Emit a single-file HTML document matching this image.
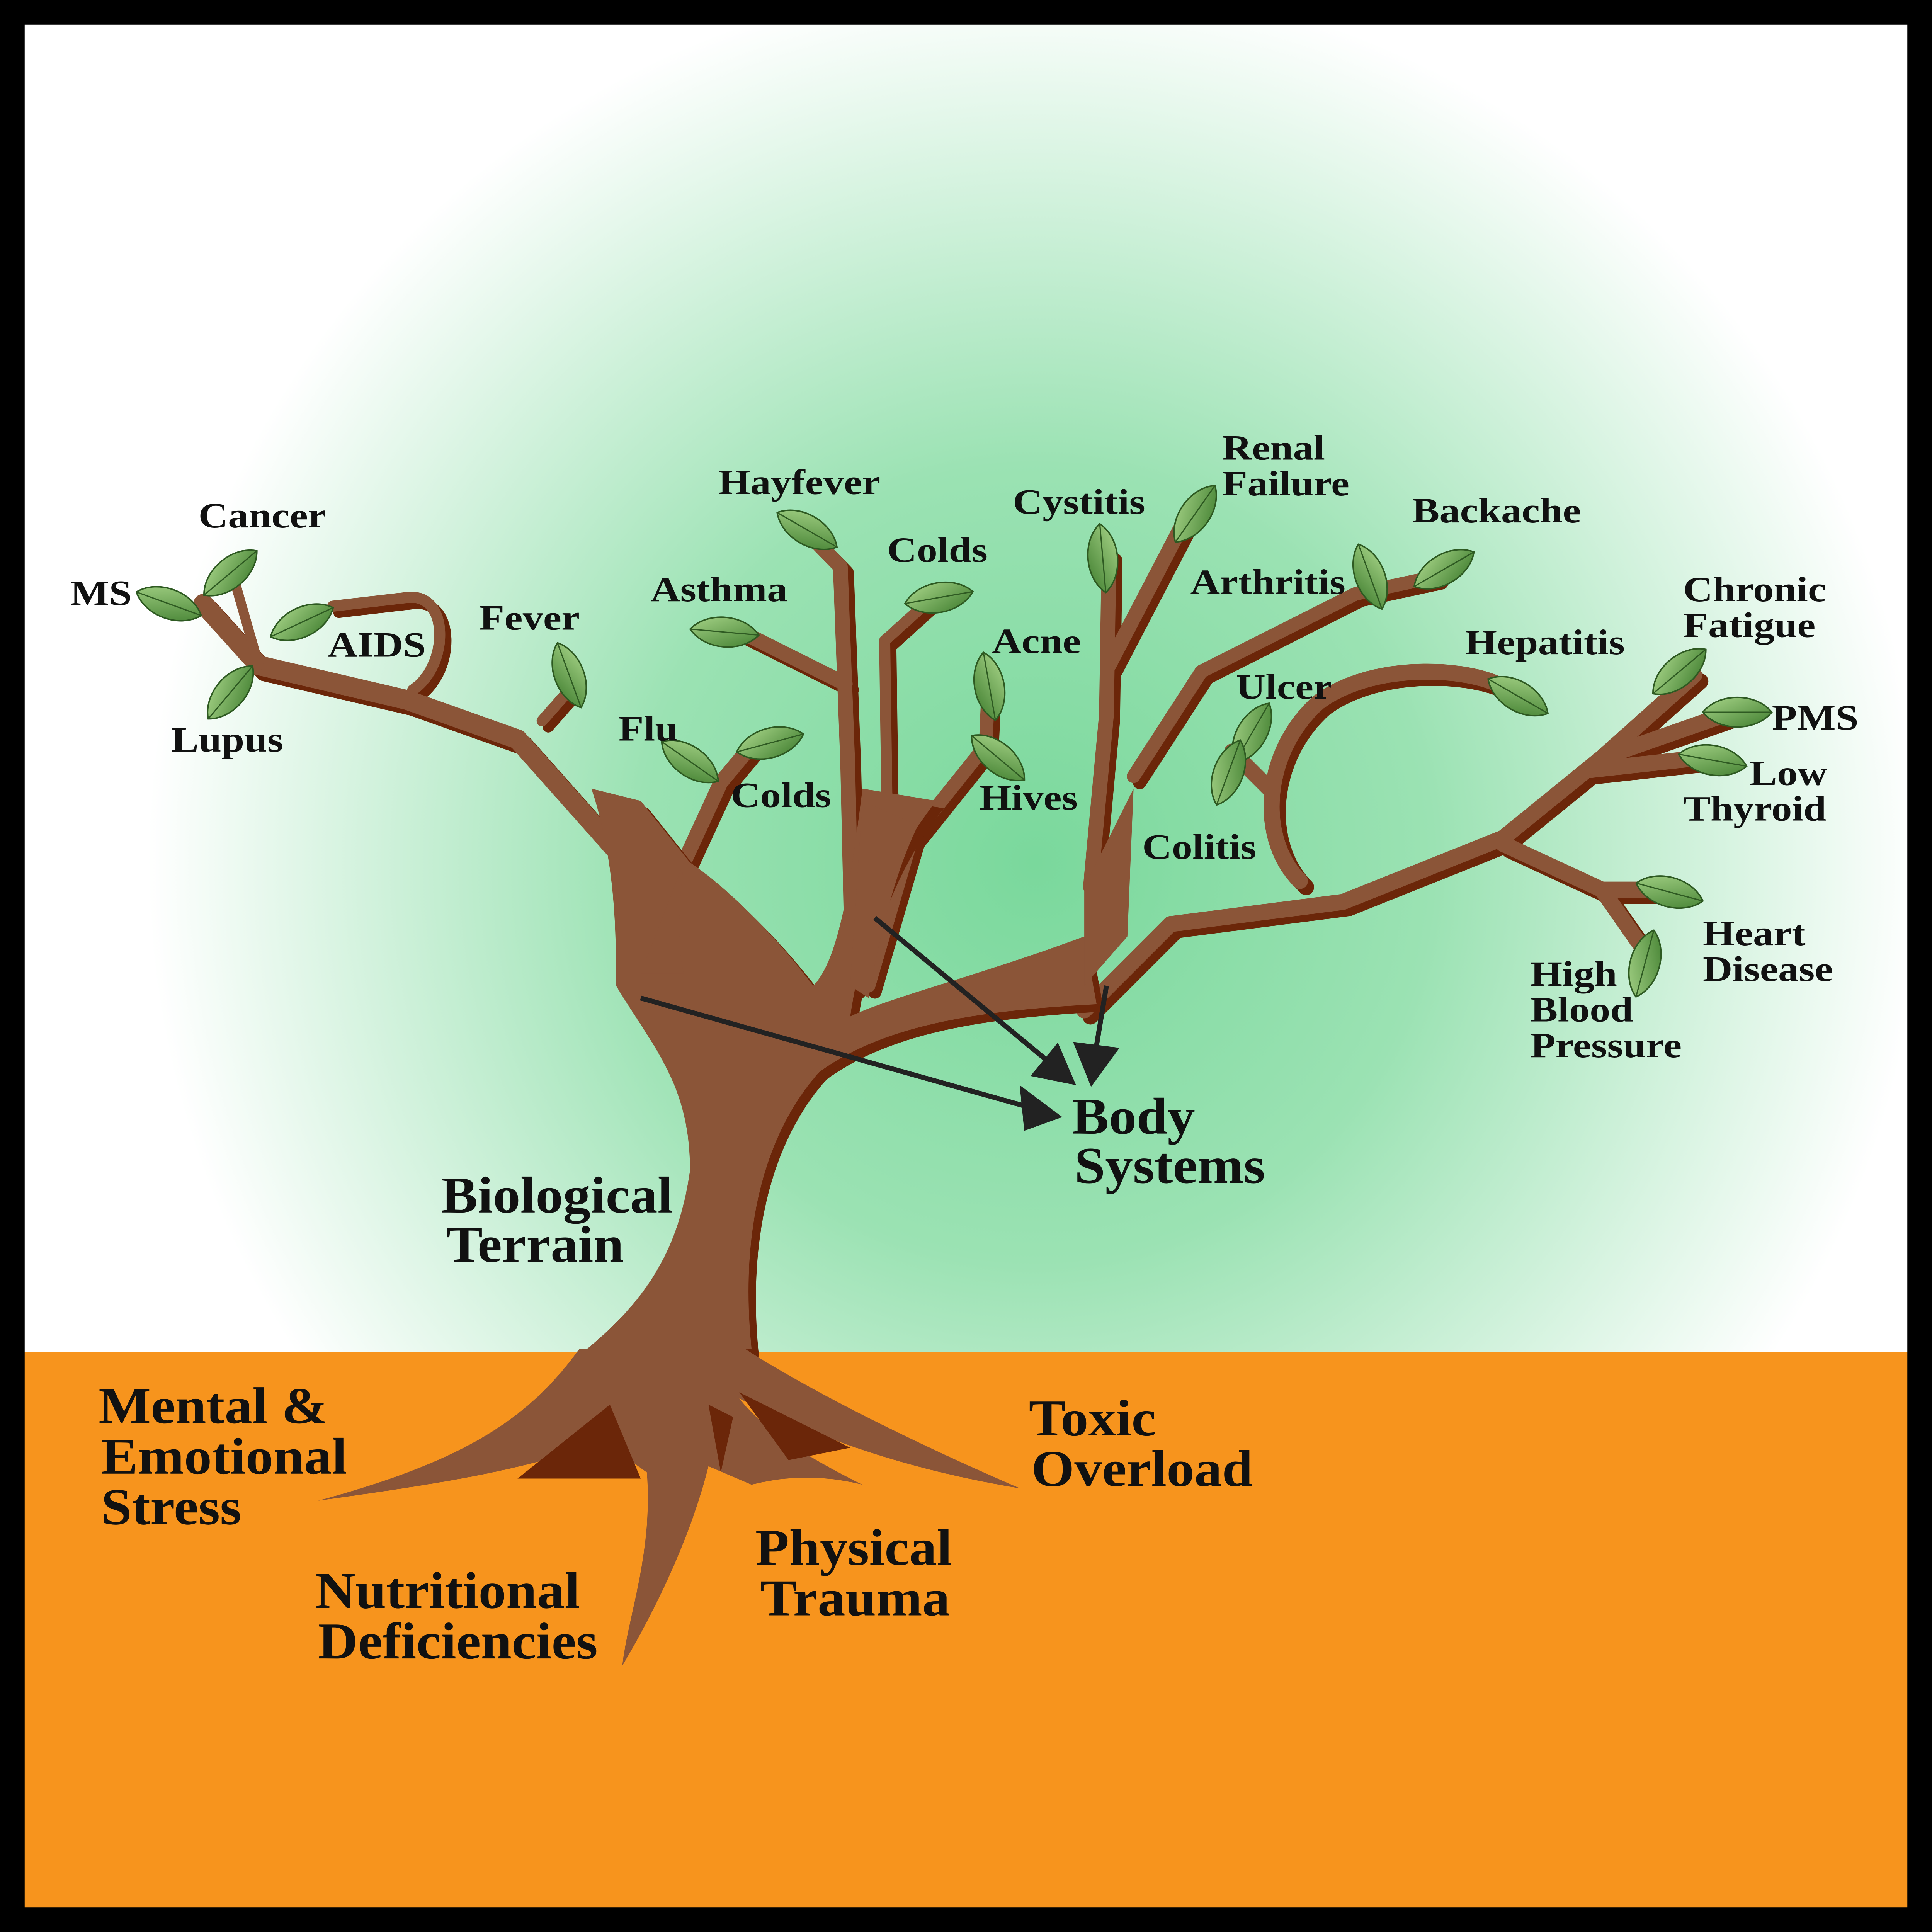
<!DOCTYPE html>
<html><head><style>html,body{margin:0;padding:0;background:#000;overflow:hidden;width:100vw;height:100vh}svg{display:block;position:fixed;left:0;top:0;width:100vw;height:100vh}</style></head><body>
<svg xmlns="http://www.w3.org/2000/svg" viewBox="0 0 1568 1568" preserveAspectRatio="none">
<defs>
<radialGradient id="bg" cx="840" cy="700" r="720" gradientUnits="userSpaceOnUse">
<stop offset="0" stop-color="#7ad89c"/><stop offset="0.45" stop-color="#9be2b3"/><stop offset="1" stop-color="#ffffff"/>
</radialGradient>
<linearGradient id="lf" x1="0" y1="0" x2="1" y2="1"><stop offset="0" stop-color="#a9d68a"/><stop offset="1" stop-color="#3f7d2e"/></linearGradient>
<g id="leaf"><path d="M-28,0 C-15,-16 15,-16 28,0 C15,16 -15,16 -28,0Z" fill="url(#lf)" stroke="#2e5a22" stroke-width="1.2"/><path d="M-28,0 L28,0" stroke="#2e5a22" stroke-width="1"/></g>
</defs>
<rect width="1568" height="1568" fill="#000"/>
<rect x="20" y="20" width="1528" height="1077" fill="url(#bg)"/>
<rect x="20" y="1097" width="1528" height="451" fill="#f7941d"/>

<g fill="none" stroke-linecap="round" stroke-linejoin="round">
<g stroke="#6b2609" transform="translate(5,5)">
<path d="M500,690 L420,600 L330,568 L210,540 L165,490" stroke-width="16"/>
<path d="M335,560 C365,540 365,480 330,485 L270,492" stroke-width="9"/>
<path d="M440,585 L462,560" stroke-width="9"/>
<path d="M555,700 L585,635 L610,605" stroke-width="12"/>
<path d="M692,800 L688,620 L682,460 L655,432 M686,555 L600,512" stroke-width="12"/>
<path d="M720,665 L718,520 L760,482" stroke-width="9"/>
<path d="M705,800 L740,680 L800,605 L802,560" stroke-width="11"/>
<path d="M885,720 L898,580 L900,450 M900,540 L960,425" stroke-width="12"/>
<path d="M920,630 L975,545 L1100,482 L1165,468" stroke-width="11"/>
<path d="M1055,715 C1020,680 1025,610 1070,570 C1110,540 1180,540 1215,555" stroke-width="13"/>
<path d="M880,820 L950,750 L1090,732 L1220,680 L1300,615 L1375,548 M1300,615 L1400,580 M1290,625 L1380,615 M1220,685 L1300,722 L1345,722 M1300,722 L1330,765" stroke-width="13"/>
</g>
<g stroke="#8b5538">
<path d="M500,690 L420,600 L330,568 L210,540 L165,490" stroke-width="16"/>
<path d="M210,540 L190,470" stroke-width="8"/>
<path d="M335,560 C365,540 365,480 330,485 L270,492" stroke-width="9"/>
<path d="M440,585 L462,560" stroke-width="9"/>
<path d="M555,700 L585,635 L610,605" stroke-width="12"/>
<path d="M692,800 L688,620 L682,460 L655,432 M686,555 L600,512" stroke-width="12"/>
<path d="M720,665 L718,520 L760,482" stroke-width="9"/>
<path d="M705,800 L740,680 L800,605 L802,560" stroke-width="11"/>
<path d="M885,720 L898,580 L900,450 M900,540 L960,425" stroke-width="12"/>
<path d="M920,630 L975,545 L1100,482 L1165,468" stroke-width="11"/>
<path d="M1055,715 C1020,680 1025,610 1070,570 C1110,540 1180,540 1215,555 M1030,640 L1000,610" stroke-width="13"/>
<path d="M880,820 L950,750 L1090,732 L1220,680 L1300,615 L1375,548 M1300,615 L1400,580 M1290,625 L1380,615 M1220,685 L1300,722 L1345,722 M1300,722 L1330,765" stroke-width="13"/>
</g>
</g>
<path d="M610,1095 C600,1000 620,920 665,870 C720,830 800,820 890,815 L880,760 C800,790 720,810 690,825 C700,760 720,700 760,650 L700,640 C690,720 680,780 660,800 C630,760 590,720 560,700 L520,650 L480,640 C500,700 500,760 500,800 C530,850 560,880 560,950 C550,1020 520,1060 470,1100 Z" fill="#6b2609" transform="translate(6,6)"/>
<path d="M610,1095 C600,1000 620,920 665,870 C720,830 800,820 890,815 L880,760 C800,790 720,810 690,825 C700,760 720,700 760,650 L700,640 C690,720 680,780 660,800 C630,760 590,720 560,700 L520,650 L480,640 C500,700 500,760 500,800 C530,850 560,880 560,950 C550,1020 520,1060 470,1100 Z" fill="#8b5538"/>
<path d="M555,700 C550,740 550,770 555,790 L520,790 Z M700,650 L690,800 L705,810 C715,750 730,700 745,670 Z M880,720 L880,800 L915,760 L920,640 Z" fill="#8b5538"/>
<path d="M470,1095 C430,1150 380,1185 258,1218 C350,1205 420,1195 490,1170 L525,1195 C530,1260 510,1310 505,1352 C530,1310 560,1250 575,1190 L610,1205 C630,1200 660,1195 700,1205 C650,1180 620,1160 600,1135 C650,1160 720,1190 828,1208 C740,1170 660,1130 605,1095 Z" fill="#8b5538"/>
<path d="M495,1140 L520,1200 L420,1200 Z M600,1130 L690,1175 L640,1185 Z M575,1140 L585,1195 L595,1150 Z" fill="#6b2609"/>
<g stroke="#222" stroke-width="4" fill="#222">
<line x1="520" y1="810" x2="840" y2="900"/><path d="M858,906 L830,885 L833,915 Z"/>
<line x1="710" y1="745" x2="855" y2="865"/><path d="M870,878 L858,850 L840,872 Z"/>
<line x1="898" y1="800" x2="888" y2="860"/><path d="M886,878 L874,848 L905,852 Z"/>
</g>
<use href="#leaf" transform="translate(137,490) rotate(20)"/>
<use href="#leaf" transform="translate(187,465) rotate(-40)"/>
<use href="#leaf" transform="translate(245,505) rotate(-25)"/>
<use href="#leaf" transform="translate(187,562) rotate(-50)"/>
<use href="#leaf" transform="translate(462,548) rotate(70)"/>
<use href="#leaf" transform="translate(560,618) rotate(35)"/>
<use href="#leaf" transform="translate(625,603) rotate(-15)"/>
<use href="#leaf" transform="translate(588,513) rotate(5)"/>
<use href="#leaf" transform="translate(655,430) rotate(30)"/>
<use href="#leaf" transform="translate(762,485) rotate(-10)"/>
<use href="#leaf" transform="translate(803,557) rotate(80)"/>
<use href="#leaf" transform="translate(810,615) rotate(40)"/>
<use href="#leaf" transform="translate(895,453) rotate(85)"/>
<use href="#leaf" transform="translate(970,417) rotate(-55)"/>
<use href="#leaf" transform="translate(1112,468) rotate(70)"/>
<use href="#leaf" transform="translate(1172,462) rotate(-30)"/>
<use href="#leaf" transform="translate(1232,565) rotate(30)"/>
<use href="#leaf" transform="translate(1016,595) rotate(-60)"/>
<use href="#leaf" transform="translate(997,627) rotate(-70)"/>
<use href="#leaf" transform="translate(1363,545) rotate(-40)"/>
<use href="#leaf" transform="translate(1410,578) rotate(0)"/>
<use href="#leaf" transform="translate(1390,617) rotate(10)"/>
<use href="#leaf" transform="translate(1355,724) rotate(15)"/>
<use href="#leaf" transform="translate(1335,782) rotate(-75)"/>

<g font-family="Liberation Serif, serif" font-weight="bold" fill="#111">
<g font-size="29">
<text transform="translate(57,491) scale(1.15,1)">MS</text>
<text transform="translate(161,428) scale(1.15,1)">Cancer</text>
<text transform="translate(266,533) scale(1.15,1)">AIDS</text>
<text transform="translate(139,610) scale(1.15,1)">Lupus</text>
<text transform="translate(389,511) scale(1.15,1)">Fever</text>
<text transform="translate(502,601) scale(1.15,1)">Flu</text>
<text transform="translate(593,655) scale(1.15,1)">Colds</text>
<text transform="translate(528,488) scale(1.15,1)">Asthma</text>
<text transform="translate(583,401) scale(1.15,1)">Hayfever</text>
<text transform="translate(720,456) scale(1.15,1)">Colds</text>
<text transform="translate(805,530) scale(1.15,1)">Acne</text>
<text transform="translate(795,657) scale(1.15,1)">Hives</text>
<text transform="translate(822,417) scale(1.15,1)">Cystitis</text>
<text transform="translate(992,373) scale(1.15,1)">Renal</text>
<text transform="translate(992,402) scale(1.15,1)">Failure</text>
<text transform="translate(966,482) scale(1.15,1)">Arthritis</text>
<text transform="translate(1146,424) scale(1.15,1)">Backache</text>
<text transform="translate(1003,567) scale(1.15,1)">Ulcer</text>
<text transform="translate(1189,531) scale(1.15,1)">Hepatitis</text>
<text transform="translate(927,697) scale(1.15,1)">Colitis</text>
<text transform="translate(1366,488) scale(1.15,1)">Chronic</text>
<text transform="translate(1366,517) scale(1.15,1)">Fatigue</text>
<text transform="translate(1438,592) scale(1.15,1)">PMS</text>
<text transform="translate(1420,637) scale(1.15,1)">Low</text>
<text transform="translate(1366,666) scale(1.15,1)">Thyroid</text>
<text transform="translate(1382,767) scale(1.15,1)">Heart</text>
<text transform="translate(1382,796) scale(1.15,1)">Disease</text>
<text transform="translate(1242,800) scale(1.15,1)">High</text>
<text transform="translate(1242,829) scale(1.15,1)">Blood</text>
<text transform="translate(1242,858) scale(1.15,1)">Pressure</text>
</g>
<g font-size="42">
<text transform="translate(870,920) scale(1.07,1)">Body</text>
<text transform="translate(872,960) scale(1.07,1)">Systems</text>
<text transform="translate(358,984) scale(1.06,1)">Biological</text>
<text transform="translate(362,1024) scale(1.06,1)">Terrain</text>
<text transform="translate(80,1155) scale(1.07,1)">Mental &amp;</text>
<text transform="translate(82,1196) scale(1.07,1)">Emotional</text>
<text transform="translate(82,1237) scale(1.07,1)">Stress</text>
<text transform="translate(256,1305) scale(1.07,1)">Nutritional</text>
<text transform="translate(258,1346) scale(1.07,1)">Deficiencies</text>
<text transform="translate(613,1270) scale(1.07,1)">Physical</text>
<text transform="translate(617,1311) scale(1.07,1)">Trauma</text>
<text transform="translate(835,1165) scale(1.07,1)">Toxic</text>
<text transform="translate(837,1206) scale(1.07,1)">Overload</text>
</g>
</g>
</svg>
</body></html>
